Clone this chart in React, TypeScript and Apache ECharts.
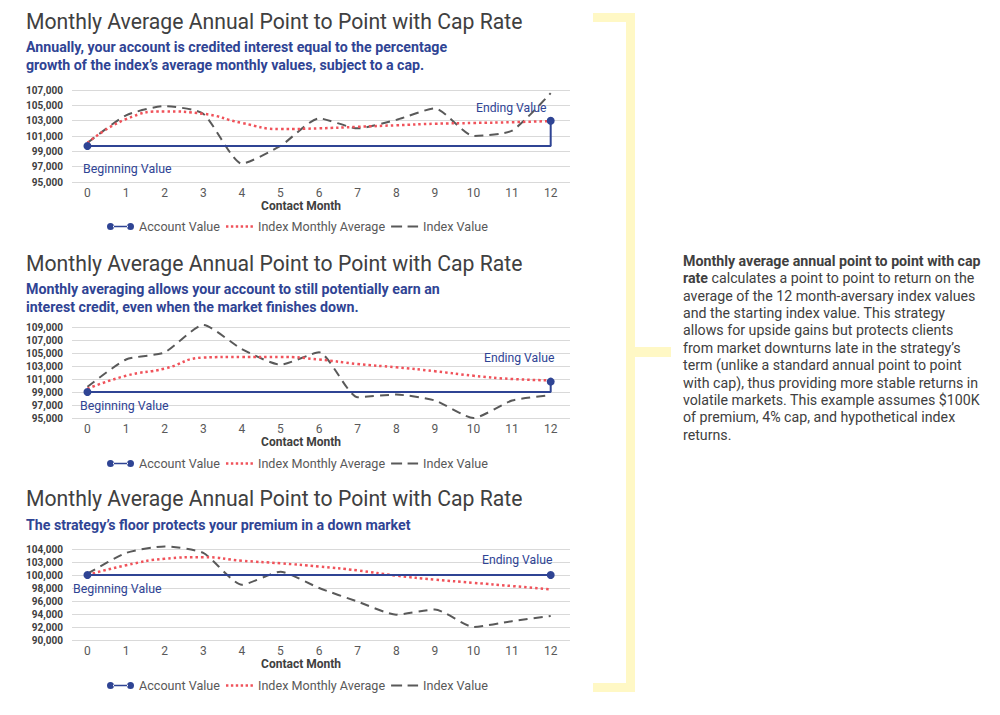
import React, { useEffect, useRef } from "react";
import * as echarts from "echarts";

// ---------- data ----------
const months = [0, 1, 2, 3, 4, 5, 6, 7, 8, 9, 10, 11, 12];
const monthLabels = ["0", "1", "2", "3", "4", "5", "6", "7", "8", "9", "10", "11", "12"];

const chartTitle = "Monthly Average Annual Point to Point with Cap Rate";
const subtitle1 = "Annually, your account is credited interest equal to the percentage\ngrowth of the index\u2019s average monthly values, subject to a cap.";
const subtitle2 = "Monthly averaging allows your account to still potentially earn an\ninterest credit, even when the market finishes down.";
const subtitle3 = "The strategy\u2019s floor protects your premium in a down market";

const seriesNames = ["Account Value", "Index Monthly Average", "Index Value"];
const beginLabel = "Beginning Value";
const endLabel = "Ending Value";
const xAxisName = "Contact Month";

// panel 1
const yTicks1 = [95000, 97000, 99000, 101000, 103000, 105000, 107000];
const yTickLabels1 = ["95,000", "97,000", "99,000", "101,000", "103,000", "105,000", "107,000"];
const account1 = [99700, 103000]; // beginning, ending
const avg1 = [100100, 103200, 104200, 103900, 102700, 101900, 102000, 102200, 102400, 102600, 102700, 102800, 102950];
const index1 = [100100, 103700, 104900, 103900, 97400, 99700, 103300, 102000, 103100, 104600, 101000, 101700, 106600];

// panel 2
const yTicks2 = [95000, 97000, 99000, 101000, 103000, 105000, 107000, 109000];
const yTickLabels2 = ["95,000", "97,000", "99,000", "101,000", "103,000", "105,000", "107,000", "109,000"];
const account2 = [99000, 100600];
const avg2 = [99500, 101500, 102600, 104300, 104400, 104400, 104000, 103300, 102800, 102200, 101500, 101000, 100800];
const index2 = [99800, 104000, 105100, 109300, 105600, 103200, 105100, 98200, 98600, 97700, 95000, 97700, 98500];

// panel 3
const yTicks3 = [90000, 92000, 94000, 96000, 98000, 100000, 102000, 104000];
const yTickLabels3 = ["90,000", "92,000", "94,000", "96,000", "98,000", "100,000", "103,000", "104,000"];
const account3 = [100000, 100000];
const avg3 = [100000, 101500, 102500, 102750, 102200, 101800, 101300, 100700, 99900, 99300, 98800, 98300, 97800];
const index3 = [100200, 103400, 104400, 103400, 98500, 100500, 98000, 95900, 93900, 94700, 92000, 92900, 93700];

const noteLines: [string, string][] = [
  ["Monthly average annual point to point with cap", ""],
  ["rate", " calculates a point to point to return on the"],
  ["", "average of the 12 month-aversary index values"],
  ["", "and the starting index value. This strategy"],
  ["", "allows for upside gains but protects clients"],
  ["", "from market downturns late in the strategy\u2019s"],
  ["", "term (unlike a standard annual point to point"],
  ["", "with cap), thus providing more stable returns in"],
  ["", "volatile markets. This example assumes $100K"],
  ["", "of premium, 4% cap, and hypothetical index"],
  ["", "returns."],
];

// ---------- style ----------
const FONT = "Roboto";
const BLUE = "#2F4494";
const RED = "#F0525A";
const GREY = "#595959";
const DARK = "#404040";
const YELLOW = "#FFF8C5";

const panels = [
  { subtitle: subtitle1, yTicks: yTicks1, yLabels: yTickLabels1, account: account1, avg: avg1, index: index1,
    titleTop: 10, subGap: 6, gridTop: 90, gridHeight: 92, legendTop: 220,
    begin: [83, 168], end: [476, 108] },
  { subtitle: subtitle2, yTicks: yTicks2, yLabels: yTickLabels2, account: account2, avg: avg2, index: index2,
    titleTop: 252, subGap: 6, gridTop: 327, gridHeight: 91, legendTop: 457,
    begin: [80, 405], end: [484, 358] },
  { subtitle: subtitle3, yTicks: yTicks3, yLabels: yTickLabels3, account: account3, avg: avg3, index: index3,
    titleTop: 487, subGap: 7, gridTop: 549, gridHeight: 91, legendTop: 679,
    begin: [73, 588], end: [482, 560] },
];

// legend icons (bounding box 27 x 7; tiny corner segments fix the box)
const BOX = "M0,0L0.01,0Z M26.99,7L27,7Z ";
const accountIcon =
  "path://M0,3.5A3.5,3.5,0,1,0,7,3.5A3.5,3.5,0,1,0,0,3.5Z M6,2.7L21,2.7L21,4.3L6,4.3Z M20,3.5A3.5,3.5,0,1,0,27,3.5A3.5,3.5,0,1,0,20,3.5Z";
const dottedIcon =
  "path://" + BOX +
  [0, 4.9, 9.8, 14.7, 19.6, 24.5].map((x) => `M${x},2.3L${x + 2.4},2.3L${x + 2.4},4.7L${x},4.7Z`).join(" ");
const dashedIcon = "path://" + BOX + "M0,2.5L11,2.5L11,4.5L0,4.5Z M16.5,2.5L27,2.5L27,4.5L16.5,4.5Z";

function buildOption() {
  const title: any[] = [];
  const grid: any[] = [];
  const xAxis: any[] = [];
  const yAxis: any[] = [];
  const legend: any[] = [];
  const series: any[] = [];
  const graphic: any[] = [];

  panels.forEach((p, i) => {
    title.push({
      text: chartTitle,
      subtext: p.subtitle,
      left: 26,
      top: p.titleTop,
      padding: 0,
      itemGap: p.subGap,
      textStyle: { fontFamily: FONT, fontSize: 21.2, fontWeight: "normal", color: DARK, lineHeight: 22 },
      subtextStyle: { fontFamily: FONT, fontSize: 14.2, fontWeight: "bold", color: BLUE, lineHeight: 18 },
    });
    grid.push({ left: 72, right: 430, top: p.gridTop, height: p.gridHeight });
    xAxis.push({
      type: "value",
      gridIndex: i,
      min: -0.4,
      max: 12.5,
      name: xAxisName,
      nameLocation: "middle",
      nameGap: 18,
      nameTextStyle: { fontFamily: FONT, fontSize: 12, fontWeight: "bold", color: DARK, padding: [0, 40, 0, 0] },
      axisLine: { show: false },
      axisTick: { show: false },
      splitLine: { show: false },
      axisLabel: {
        customValues: months,
        formatter: (v: number) => monthLabels[months.indexOf(Math.round(v))] ?? "",
        fontFamily: FONT,
        fontSize: 12,
        color: GREY,
        margin: 5,
      },
    });
    const ticks = p.yTicks;
    const labels = p.yLabels;
    yAxis.push({
      type: "value",
      gridIndex: i,
      min: ticks[0],
      max: ticks[ticks.length - 1],
      interval: ticks[1] - ticks[0],
      axisLine: { show: false },
      axisTick: { show: false },
      splitLine: { lineStyle: { color: "#D9D9D9", width: 1 } },
      axisLabel: {
        formatter: (v: number) => labels[ticks.indexOf(v)] ?? "",
        fontFamily: FONT,
        fontSize: 10,
        fontWeight: "bold",
        color: DARK,
        margin: 9,
      },
    });
    legend.push({
      left: 107,
      top: p.legendTop,
      padding: 0,
      itemWidth: 27,
      itemHeight: 7,
      itemGap: 6,
      selectedMode: false,
      textStyle: { fontFamily: FONT, fontSize: 12.6, color: GREY },
      data: [
        { name: seriesNames[0], icon: accountIcon },
        { name: seriesNames[1], icon: dottedIcon },
        { name: seriesNames[2], icon: dashedIcon },
      ],
    });
    series.push({
      name: seriesNames[2],
      type: "line",
      xAxisIndex: i,
      yAxisIndex: i,
      smooth: 0.2,
      clip: false,
      symbol: "none",
      lineStyle: { color: GREY, width: 2, type: [9, 6] },
      itemStyle: { color: GREY },
      data: months.map((m, k) => [m, p.index[k]]),
      z: 2,
    });
    series.push({
      name: seriesNames[1],
      type: "line",
      xAxisIndex: i,
      yAxisIndex: i,
      smooth: 0.5,
      clip: false,
      symbol: "none",
      lineStyle: { color: RED, width: 2.5, type: [2.5, 3] },
      itemStyle: { color: RED },
      data: months.map((m, k) => [m, p.avg[k]]),
      z: 3,
    });
    const first = months[0];
    const last = months[months.length - 1];
    series.push({
      name: seriesNames[0],
      type: "line",
      xAxisIndex: i,
      yAxisIndex: i,
      clip: false,
      symbol: "circle",
      symbolSize: 8,
      lineStyle: { color: BLUE, width: 2 },
      itemStyle: { color: BLUE },
      data: [
        { value: [first, p.account[0]] },
        { value: [last, p.account[0]], symbol: "none" },
        { value: [last, p.account[1]] },
      ],
      z: 4,
    });
    graphic.push({
      type: "text",
      x: p.begin[0],
      y: p.begin[1],
      z: 10,
      style: { text: beginLabel, fontFamily: FONT, fontSize: 12.4, fill: BLUE, verticalAlign: "middle" },
    });
    graphic.push({
      type: "text",
      x: p.end[0],
      y: p.end[1],
      z: 10,
      style: { text: endLabel, fontFamily: FONT, fontSize: 12.2, fill: BLUE, verticalAlign: "middle" },
    });
  });

  // bracket
  graphic.push({ type: "rect", shape: { x: 593, y: 13, width: 42, height: 9 }, style: { fill: YELLOW } });
  graphic.push({ type: "rect", shape: { x: 626, y: 13, width: 9, height: 679 }, style: { fill: YELLOW } });
  graphic.push({ type: "rect", shape: { x: 626, y: 347, width: 45, height: 10 }, style: { fill: YELLOW } });
  graphic.push({ type: "rect", shape: { x: 593, y: 683, width: 42, height: 9 }, style: { fill: YELLOW } });

  // side note
  const noteText = noteLines
    .map(([b, n]) => (b ? `{b|${b}}` : "") + (n ? `{n|${n}}` : ""))
    .join("\n");
  const NS = 14.2;
  graphic.push({
    type: "text",
    x: 683,
    y: 252,
    style: {
      text: noteText,
      fontFamily: FONT,
      fontSize: NS,
      lineHeight: 17.4,
      fill: DARK,
      rich: {
        b: { fontFamily: FONT, fontSize: NS, fontWeight: "bold", fill: DARK, lineHeight: 17.4 },
        n: { fontFamily: FONT, fontSize: NS, fill: DARK, lineHeight: 17.4 },
      },
    },
  });

  return {
    animation: false,
    backgroundColor: "#ffffff",
    textStyle: { fontFamily: FONT },
    title,
    grid,
    xAxis,
    yAxis,
    legend,
    series,
    graphic,
  };
}

export default function App() {
  const ref = useRef<HTMLDivElement>(null);
  useEffect(() => {
    document.body.style.margin = "0";
    if (!ref.current) return;
    const chart = echarts.init(ref.current, null, { renderer: "svg" });
    chart.setOption(buildOption() as any);
    return () => chart.dispose();
  }, []);
  return <div ref={ref} style={{ width: 1000, height: 715 }} />;
}
